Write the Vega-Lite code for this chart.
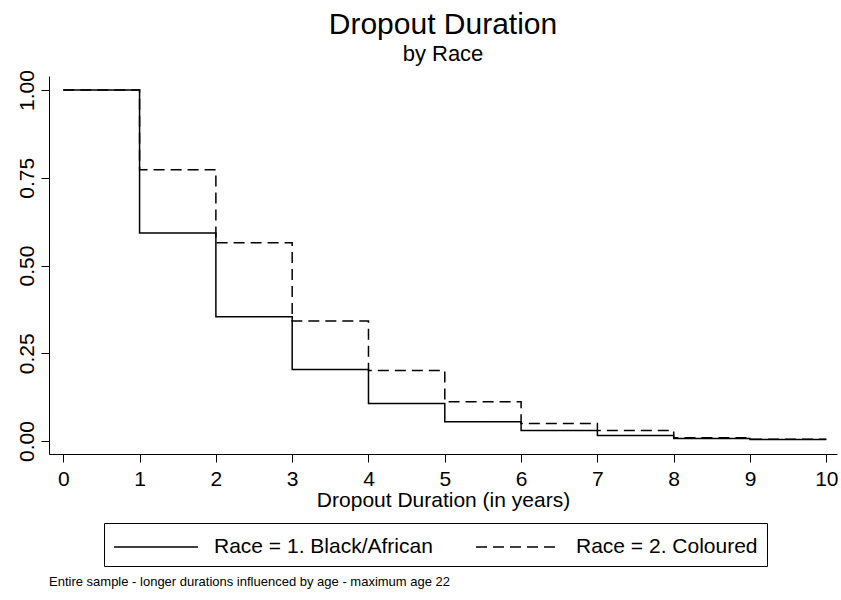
{
  "$schema": "https://vega.github.io/schema/vega-lite/v6.json",
  "background": "white",
  "padding": {"left": 15, "top": 9, "right": 0, "bottom": 0},
  "config": {
    "font": "Liberation Sans",
    "view": {"stroke": null},
    "axis": {
      "domainColor": "black",
      "tickColor": "black",
      "labelColor": "black",
      "titleColor": "black",
      "grid": false,
      "tickSize": 8,
      "labelFontSize": 21,
      "titleFontSize": 21,
      "titleFontWeight": "normal",
      "labelFont": "Liberation Sans",
      "titleFont": "Liberation Sans",
      "domainWidth": 1,
      "tickWidth": 1
    }
  },
  "title": {
    "text": "Entire sample - longer durations influenced by age -  maximum age 22",
    "orient": "bottom",
    "anchor": "start",
    "frame": "group",
    "fontSize": 13,
    "fontWeight": "normal",
    "font": "Liberation Sans",
    "color": "black",
    "offset": 9
  },
  "vconcat": [
    {
      "width": 788,
      "height": 378,
      "title": {
        "text": "Dropout Duration",
        "subtitle": "by Race",
        "fontSize": 30,
        "subtitleFontSize": 22,
        "fontWeight": "normal",
        "font": "Liberation Sans",
        "subtitleFont": "Liberation Sans",
        "color": "black",
        "subtitleColor": "black",
        "anchor": "middle",
        "offset": 5,
        "subtitlePadding": 4
      },
      "data": {
        "values": [
          {"duration": 0, "survival": 1.0, "race": "Race = 1. Black/African"},
          {"duration": 1, "survival": 0.593, "race": "Race = 1. Black/African"},
          {"duration": 2, "survival": 0.354, "race": "Race = 1. Black/African"},
          {"duration": 3, "survival": 0.204, "race": "Race = 1. Black/African"},
          {"duration": 4, "survival": 0.107, "race": "Race = 1. Black/African"},
          {"duration": 5, "survival": 0.055, "race": "Race = 1. Black/African"},
          {"duration": 6, "survival": 0.030, "race": "Race = 1. Black/African"},
          {"duration": 7, "survival": 0.016, "race": "Race = 1. Black/African"},
          {"duration": 8, "survival": 0.007, "race": "Race = 1. Black/African"},
          {"duration": 9, "survival": 0.004, "race": "Race = 1. Black/African"},
          {"duration": 10, "survival": 0.004, "race": "Race = 1. Black/African"},
          {"duration": 0, "survival": 1.0, "race": "Race = 2. Coloured"},
          {"duration": 1, "survival": 0.773, "race": "Race = 2. Coloured"},
          {"duration": 2, "survival": 0.565, "race": "Race = 2. Coloured"},
          {"duration": 3, "survival": 0.342, "race": "Race = 2. Coloured"},
          {"duration": 4, "survival": 0.201, "race": "Race = 2. Coloured"},
          {"duration": 5, "survival": 0.112, "race": "Race = 2. Coloured"},
          {"duration": 6, "survival": 0.050, "race": "Race = 2. Coloured"},
          {"duration": 7, "survival": 0.030, "race": "Race = 2. Coloured"},
          {"duration": 8, "survival": 0.009, "race": "Race = 2. Coloured"},
          {"duration": 9, "survival": 0.005, "race": "Race = 2. Coloured"},
          {"duration": 10, "survival": 0.005, "race": "Race = 2. Coloured"}
        ]
      },
      "mark": {"type": "line", "interpolate": "step-after", "strokeWidth": 1.5, "color": "black"},
      "encoding": {
        "x": {
          "field": "duration",
          "type": "quantitative",
          "scale": {"domain": [-0.187, 10.14], "nice": false, "zero": false},
          "axis": {
            "values": [0, 1, 2, 3, 4, 5, 6, 7, 8, 9, 10],
            "title": "Dropout Duration (in years)",
            "labelPadding": 6,
            "titlePadding": 0
          }
        },
        "y": {
          "field": "survival",
          "type": "quantitative",
          "scale": {"domain": [-0.037, 1.04], "nice": false, "zero": false},
          "axis": {
            "values": [0, 0.25, 0.5, 0.75, 1],
            "format": ".2f",
            "title": null,
            "labelAngle": -90,
            "labelAlign": "center",
            "labelBaseline": "bottom",
            "labelPadding": 4
          }
        },
        "strokeDash": {
          "field": "race",
          "type": "nominal",
          "scale": {
            "domain": ["Race = 1. Black/African", "Race = 2. Coloured"],
            "range": [[1, 0], [11, 6]]
          },
          "legend": {
            "title": null,
            "orient": "none",
            "legendX": 55,
            "legendY": 447,
            "direction": "horizontal",
            "strokeColor": "black",
            "padding": 9,
            "symbolType": "M-1,0H5",
            "symbolSize": 784,
            "symbolStrokeWidth": 1.5,
            "symbolStrokeColor": "black",
            "symbolFillColor": "transparent",
            "labelFontSize": 21,
            "labelFont": "Liberation Sans",
            "labelColor": "black",
            "labelOffset": 71,
            "labelLimit": 400,
            "columnPadding": 40
          }
        }
      }
    }
  ]
}
